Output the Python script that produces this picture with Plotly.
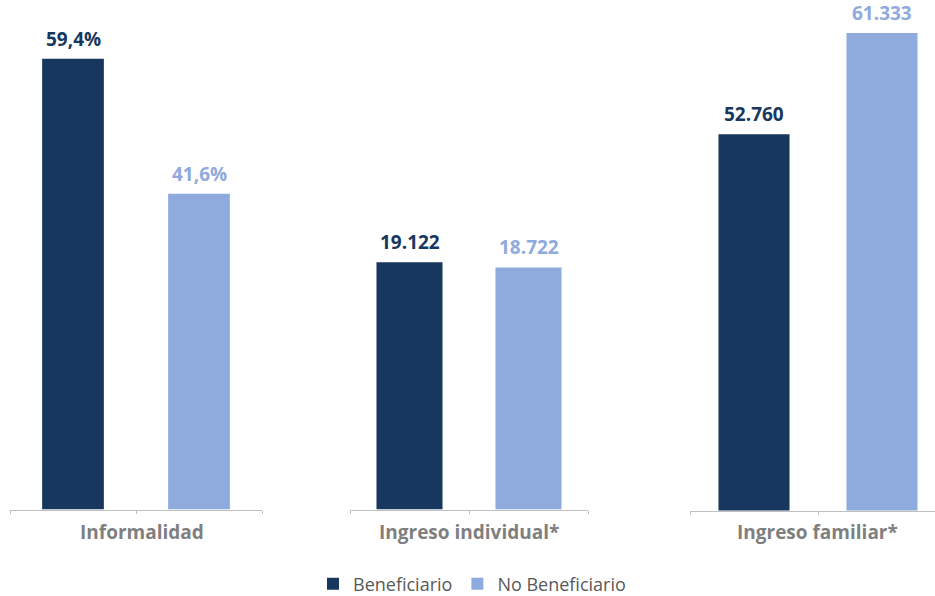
import plotly.graph_objects as go

# Data
groups = ["Informalidad", "Ingreso individual*", "Ingreso familiar*"]
series = ["Beneficiario", "No Beneficiario"]
beneficiario = [59.4, 19122, 52760]
no_beneficiario = [41.6, 18722, 61333]
value_format = ["pct", "num", "num"]

colors = {"Beneficiario": "#18375E", "No Beneficiario": "#8FAADC"}

W, H = 935, 596


def fmt(v, kind):
    if kind == "pct":
        return f"{v:.1f}".replace(".", ",") + "%"
    return f"{int(round(v)):,}".replace(",", ".")


# Panel layout (pixel extents of each small chart)
panel_x = [(10, 262), (350, 588), (690, 935)]
panel_bottom = [509.5, 509.5, 510.5]
panel_top = 20
group_label_x = [141.5, 469, 817]
x_ranges = [[-0.5, 1.5], [-0.5, 1.5], [-0.5, 1.414]]
y_ranges = [[0, 64.5], [0, 37850], [20900, 62430]]
bar_widths = [0.49, 0.555, 0.555]

fig = go.Figure()

for i, g in enumerate(groups):
    xa = "x" if i == 0 else f"x{i + 1}"
    ya = "y" if i == 0 else f"y{i + 1}"
    vals = {"Beneficiario": beneficiario[i], "No Beneficiario": no_beneficiario[i]}
    for s in series:
        fig.add_trace(go.Bar(
            x=[s], y=[vals[s]], name=s,
            marker=dict(color=colors[s], line=dict(width=0)),
            width=bar_widths[i],
            xaxis=xa, yaxis=ya,
            legendgroup=s, showlegend=(i == 0),
            hoverinfo="skip",
        ))
        fig.add_annotation(
            x=s, y=vals[s], xref=xa, yref=ya,
            text=f"<b>{fmt(vals[s], value_format[i])}</b>",
            showarrow=False, yanchor="bottom", yshift=5,
            font=dict(family="Open Sans", size=19, color=colors[s]),
        )
    # group label under each panel
    fig.add_annotation(
        x=group_label_x[i] / W, xref="paper", y=(H - 532) / H, yref="paper",
        text=f"<b>{g}</b>", showarrow=False, yanchor="middle", xanchor="center",
        font=dict(family="Open Sans", size=19, color="#7F7F7F"),
    )

    x0, x1 = panel_x[i]
    xkey = "xaxis" if i == 0 else f"xaxis{i + 1}"
    ykey = "yaxis" if i == 0 else f"yaxis{i + 1}"
    fig.update_layout({
        xkey: dict(
            domain=[x0 / W, min(x1 / W, 1)], anchor=ya,
            type="category", categoryorder="array", categoryarray=series,
            range=x_ranges[i], showticklabels=False,
            showline=True, linecolor="#BFBFBF", linewidth=1,
            ticks="outside", tickson="boundaries", ticklen=3, tickcolor="#BFBFBF",
            showgrid=False, zeroline=False, fixedrange=True,
        ),
        ykey: dict(
            domain=[(H - panel_bottom[i]) / H, (H - panel_top) / H], anchor=xa,
            range=y_ranges[i], visible=False, showgrid=False, zeroline=False,
            fixedrange=True,
        ),
    })

fig.update_layout(
    width=W, height=H,
    margin=dict(l=0, r=0, t=0, b=0, autoexpand=False),
    barmode="overlay",
    paper_bgcolor="white", plot_bgcolor="white",
    font=dict(family="Open Sans"),
    legend=dict(
        orientation="h", x=472 / W, xanchor="center",
        y=(H - 584) / H, yanchor="middle",
        font=dict(family="Open Sans", size=18, color="#595959"),
        itemwidth=30, traceorder="normal",
        bgcolor="rgba(0,0,0,0)",
    ),
)

fig.write_html("out.html")
